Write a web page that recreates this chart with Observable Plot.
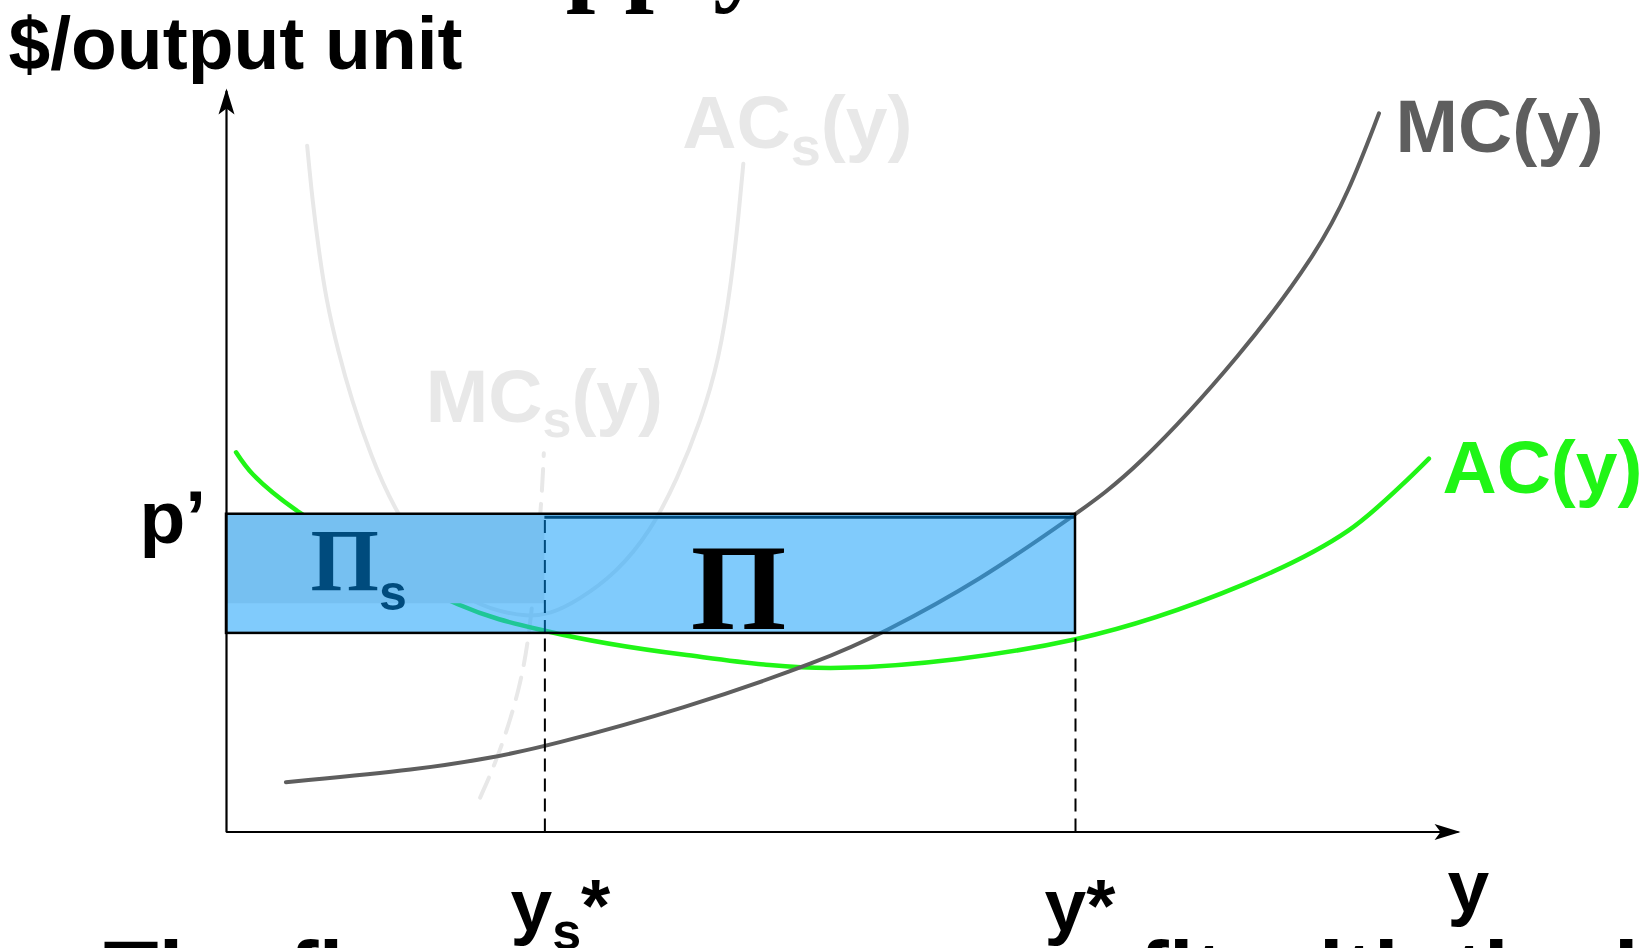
<!DOCTYPE html>
<html>
<head>
<meta charset="utf-8">
<script src="https://cdn.jsdelivr.net/npm/d3@7"></script>
<script src="https://cdn.jsdelivr.net/npm/@observablehq/plot@0.6"></script>
<style>
  html, body { margin: 0; padding: 0; background: #fff; overflow: hidden; }
</style>
</head>
<body>
<script>
// ---------- data (output y, cost in $/output unit) ----------
const mcQ  = [0.56, 1.83, 2.52, 3.02, 4.30, 5.63, 6.18, 7.10, 8.00, 8.55, 9.58, 10.27, 10.57, 10.86];
const mcC  = [0.94, 1.18, 1.41, 1.62, 2.32, 3.25, 3.75, 4.75, 6.00, 6.79, 9.04, 10.92, 12.06, 13.57];

const acQ  = [0.09, 0.25, 0.69, 2.18, 3.02, 4.30, 5.79, 8.00, 9.58, 10.57, 11.33];
const acC  = [7.17, 6.75, 6.03, 4.30, 3.79, 3.35, 3.10, 3.64, 4.67, 5.69, 7.05];

const acsQ = [0.76, 0.81, 0.87, 0.94, 1.05, 1.18, 1.36, 1.56, 1.92, 2.27, 2.58, 2.82, 3.05, 3.31, 3.67, 4.00, 4.25, 4.47, 4.64, 4.76, 4.83, 4.87];
const acsC = [12.96, 11.92, 10.98, 10.04, 9.09, 8.15, 7.11, 6.17, 5.03, 4.37, 4.16, 4.07, 4.11, 4.37, 4.88, 5.69, 6.67, 7.77, 8.90, 10.41, 11.74, 12.62];

const mcsQ = [2.39, 2.57, 2.77, 2.87, 2.97, 2.99];
const mcsC = [0.65, 1.46, 2.73, 3.92, 6.24, 7.15];

const pPrime = 6.0;        // price p'
const yStar = 8.0;         // y*
const ysStar = 3.0;        // ys*
const acAtYStar = 3.75;    // bottom of profit rectangle
const acsAtYsStar = 4.31;  // bottom of short-run profit rectangle
const yAxisTop = 13.98;
const xAxisEnd = 11.6;

const curveLabels = ["MC(y)", "AC(y)", "AC_s(y)", "MC_s(y)"];
const tickLabels = ["y_s*", "y*"];
const axisTitles = ["$/output unit", "y"];
const priceLabel = "p\u2019";
const areaLabels = ["\u03A0", "\u03A0_s"];
const titleText = "Short-run supply";
const captionText = "The firm earns more profit with the larger plant";

// ---------- styles ----------
const GRAY = "#5e5e5e", GREEN = "#20f516", LIGHT = "#e8e8e8", NAVY = "#004b7d";
const SANS = "Liberation Sans", SERIF = "Liberation Serif";
const CURVE = "basis";
const pts = (xs, ys) => xs.map((x, i) => [x, ys[i]]);

function arrowMarker(color, context) {
  const doc = (context && context.document) || document;
  const ns = "http://www.w3.org/2000/svg";
  const m = doc.createElementNS(ns, "marker");
  m.setAttribute("viewBox", "-28 -9 32 18");
  m.setAttribute("markerWidth", 32);
  m.setAttribute("markerHeight", 18);
  m.setAttribute("markerUnits", "userSpaceOnUse");
  m.setAttribute("orient", "auto-start-reverse");
  m.setAttribute("refX", 0);
  m.setAttribute("refY", 0);
  const p = doc.createElementNS(ns, "path");
  p.setAttribute("d", "M3,0 L-23,-8 L-17,0 L-23,8 Z");
  p.setAttribute("fill", "black");
  p.setAttribute("stroke", "none");
  m.appendChild(p);
  return m;
}

const labelFont = {fontFamily: SANS, fontWeight: "bold", fontSize: 75, lineAnchor: "bottom", textAnchor: "start"};
const xy = {x: d => d[0], y: d => d[1]};

const mcPts = pts(mcQ, mcC), acPts = pts(acQ, acC), acsPts = pts(acsQ, acsC), mcsPts = pts(mcsQ, mcsC);
const last = a => [a[a.length - 1]];

const svg = Plot.plot({
  width: 1646,
  height: 948,
  marginLeft: 226,
  marginRight: 146.5,
  marginTop: 90.06,
  marginBottom: 116.5,
  x: {domain: [0, 12], axis: null},
  y: {domain: [0, 14], axis: null},
  style: {background: "white", overflow: "hidden", display: "block"},
  marks: [
    // short-run curves (faded)
    Plot.line(acsPts, {...xy, stroke: LIGHT, strokeWidth: 4, curve: CURVE}),
    Plot.line(mcsPts, {...xy, stroke: LIGHT, strokeWidth: 4, curve: CURVE, strokeDasharray: "22,13"}),
    // long-run curves
    Plot.line(acPts, {...xy, stroke: GREEN, strokeWidth: 4.5, curve: "catmull-rom"}),
    Plot.line(mcPts, {...xy, stroke: GRAY, strokeWidth: 4, curve: CURVE}),
    // profit rectangles
    Plot.rect([{x1: 0, x2: yStar, y1: acAtYStar, y2: pPrime}],
      {x1: "x1", x2: "x2", y1: "y1", y2: "y2", fill: "rgb(30,163,250)", fillOpacity: 0.565}),
    Plot.rect([{x1: 0, x2: ysStar, y1: acsAtYsStar, y2: pPrime}],
      {x1: "x1", x2: "x2", y1: "y1", y2: "y2", fill: "#76c0f1"}),
    Plot.ruleY([pPrime], {x1: ysStar, x2: yStar, stroke: NAVY, strokeWidth: 3, dy: 3}),
    Plot.ruleX([ysStar], {y1: acAtYStar, y2: pPrime, stroke: NAVY, strokeWidth: 2, strokeDasharray: "13,7"}),
    Plot.rect([{x1: 0, x2: yStar, y1: acAtYStar, y2: pPrime}],
      {x1: "x1", x2: "x2", y1: "y1", y2: "y2", fill: "none", stroke: "black", strokeWidth: 2.5}),
    // drop lines
    Plot.ruleX([ysStar, yStar], {y1: 0, y2: acAtYStar, stroke: "black", strokeWidth: 2, strokeDasharray: "13,7"}),
    // axes with arrowheads
    Plot.line([[0, yAxisTop], [0, 0], [xAxisEnd, 0]],
      {...xy, stroke: "black", strokeWidth: 2.2, strokeLinejoin: "miter", markerStart: arrowMarker, markerEnd: arrowMarker}),
    // curve labels
    Plot.text(last(mcPts), {...xy, ...labelFont, text: () => curveLabels[0], fill: GRAY, dx: 16.5, dy: 39}),
    Plot.text(last(acPts), {...xy, ...labelFont, text: () => curveLabels[1], fill: GREEN, dx: 13.6, dy: 34}),
    Plot.text(last(acsPts), {...xy, ...labelFont, text: () => curveLabels[2], fill: LIGHT, dx: -61, dy: -16}),
    Plot.text(last(mcsPts), {...xy, ...labelFont, text: () => curveLabels[3], fill: LIGHT, dx: -118, dy: -31}),
    // tick labels
    Plot.text([[ysStar, 0]], {...xy, ...labelFont, text: () => tickLabels[0], fill: "black", dx: -34.4, dy: 98.5}),
    Plot.text([[yStar, 0]], {...xy, ...labelFont, text: () => tickLabels[1], fill: "black", dx: -31, dy: 98.5}),
    Plot.text([[0, pPrime]], {...xy, ...labelFont, text: () => priceLabel, fill: "black", dx: -87, dy: 28.3}),
    // axis titles
    Plot.text([[0, yAxisTop]], {...xy, ...labelFont, text: () => axisTitles[0], fill: "black", dx: -218, dy: -23}),
    Plot.text([[xAxisEnd, 0]], {...xy, ...labelFont, text: () => axisTitles[1], fill: "black", dx: -10, dy: 79.5}),
    // area labels
    Plot.text([[(ysStar + yStar) / 2, (acAtYStar + pPrime) / 2]],
      {...xy, text: () => areaLabels[0], fontFamily: SERIF, fontWeight: "bold", fontSize: 123,
       lineAnchor: "bottom", textAnchor: "middle", fill: "black", dx: -71.7, dy: 54.7}),
    Plot.text([[ysStar / 2, (acsAtYsStar + pPrime) / 2]],
      {...xy, text: () => areaLabels[1], fontFamily: SERIF, fontWeight: "bold", fontSize: 88,
       lineAnchor: "bottom", textAnchor: "start", fill: NAVY, dx: -75.2, dy: 31.5}),
    // partially visible title and caption
    Plot.text([titleText], {frameAnchor: "top", text: d => d, fontFamily: SERIF, fontWeight: "bold", fontSize: 106,
       lineAnchor: "bottom", textAnchor: "end", fill: "black", dx: -97.25, dy: -100.06}),
    Plot.text([[0, 0]], {...xy, text: () => captionText, fontFamily: SANS, fontWeight: "bold", fontSize: 90,
       lineAnchor: "bottom", textAnchor: "start", fill: "black", dx: -123, dy: 173})
  ]
});

// subscripts
const SVGNS = "http://www.w3.org/2000/svg";
const subSpec = {"AC_s(y)": [54, 17], "MC_s(y)": [52, 15], "y_s*": [52, 18], "\u03A0_s": [50, 20]};
svg.querySelectorAll("text").forEach(t => {
  const s = t.textContent;
  const spec = subSpec[s];
  if (!spec) return;
  const [main, rest] = s.split("_");
  const sub = rest[0], tail = rest.slice(1);
  t.textContent = "";
  const a = document.createElementNS(SVGNS, "tspan");
  a.textContent = main;
  t.appendChild(a);
  const b = document.createElementNS(SVGNS, "tspan");
  b.textContent = sub;
  b.setAttribute("font-size", spec[0]);
  b.setAttribute("dy", spec[1]);
  b.setAttribute("font-family", SANS);
  b.setAttribute("font-weight", "bold");
  t.appendChild(b);
  if (tail) {
    const c = document.createElementNS(SVGNS, "tspan");
    c.textContent = tail;
    c.setAttribute("dy", -spec[1]);
    t.appendChild(c);
  }
});

document.body.appendChild(svg);
</script>
</body>
</html>
